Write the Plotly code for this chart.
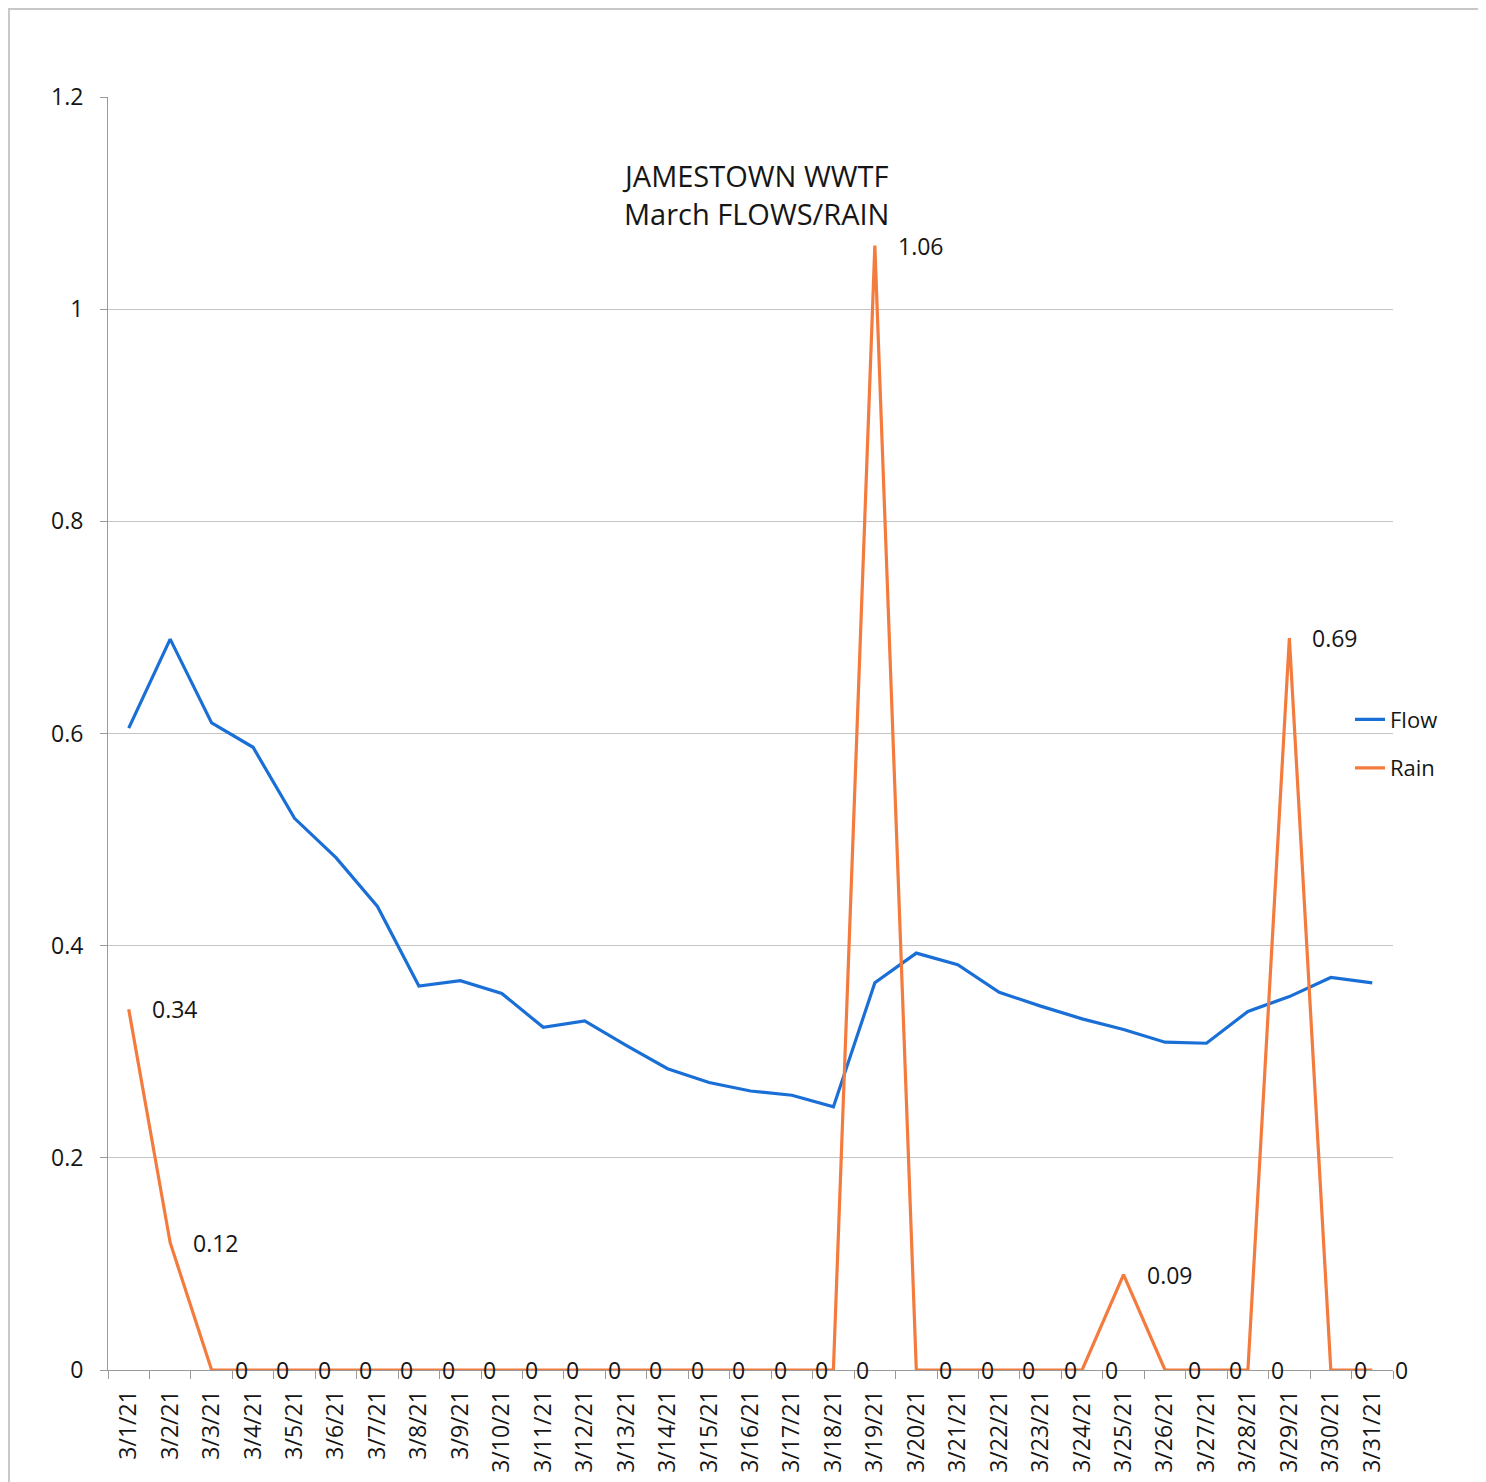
import plotly.graph_objects as go

dates = [f"3/{d}/21" for d in range(1, 32)]
flow = [0.605, 0.689, 0.610, 0.587, 0.520, 0.483, 0.437, 0.362, 0.367, 0.355,
        0.323, 0.329, 0.306, 0.284, 0.271, 0.263, 0.259, 0.248, 0.365, 0.393,
        0.382, 0.356, 0.343, 0.331, 0.321, 0.309, 0.308, 0.338, 0.352, 0.370,
        0.365]
rain = [0.34, 0.12, 0, 0, 0, 0, 0, 0, 0, 0,
        0, 0, 0, 0, 0, 0, 0, 0, 1.06, 0,
        0, 0, 0, 0, 0.09, 0, 0, 0, 0.69, 0,
        0]
y_ticks = [0, 0.2, 0.4, 0.6, 0.8, 1, 1.2]
title_lines = ["JAMESTOWN WWTF", "March FLOWS/RAIN"]

FONT = "Open Sans"
TXT = "#161616"
GRID = "#c4c4c4"
AXC = "#9a9a9a"
OFF = 8  # page body margin
W, H = 1486 - OFF, 1482 - OFF
# plot area in page pixels: x 108..1393, y 97..1370
L, T = 108 - OFF, 97 - OFF
R = W - (1393 - OFF)
B = H - (1370 - OFF)
pw, ph = W - L - R, H - T - B

def px_x(p):
    return (p - OFF - L) / pw

def px_y(p):
    return (H - B - (p - OFF)) / ph

fig = go.Figure()
fig.add_trace(go.Scatter(x=dates, y=flow, mode="lines", name="Flow",
                         line=dict(color="#1a6fd6", width=3.2), legendgroup="a"))
fig.add_trace(go.Scatter(x=dates, y=rain, mode="lines", name="Rain",
                         line=dict(color="#f47b3e", width=3.2), legendgroup="b"))

annotations = []
for d, v in zip(dates, rain):
    annotations.append(dict(x=d, y=v, xref="x", yref="y", text=f"{v:g}",
                            showarrow=False, xanchor="left", yanchor="middle",
                            xshift=21, font=dict(family=FONT, size=23, color=TXT)))
annotations.append(dict(x=px_x(755), y=px_y(194), xref="paper", yref="paper",
                        text="<br>".join(title_lines), showarrow=False,
                        xanchor="center", yanchor="middle", align="center",
                        font=dict(family=FONT, size=29, color=TXT)))

fig.update_layout(
    width=W, height=H,
    margin=dict(l=L, r=R, t=T, b=B, autoexpand=False),
    paper_bgcolor="white", plot_bgcolor="white",
    font=dict(family=FONT, size=22, color=TXT),
    showlegend=True,
    legend=dict(x=px_x(1350), y=px_y(744), xanchor="left", yanchor="middle",
                font=dict(family=FONT, size=22, color=TXT),
                tracegroupgap=17, bgcolor="rgba(0,0,0,0)"),
    annotations=annotations,
    shapes=[dict(type="rect", xref="paper", yref="paper",
                 x0=px_x(OFF + 1), x1=px_x(1482), y0=px_y(1500), y1=px_y(OFF + 1),
                 line=dict(color="#c8c8c8", width=2), layer="below")],
)
fig.update_xaxes(type="category", range=[-0.5, len(dates) - 0.5],
                 tickangle=-90, tickson="boundaries", automargin=False,
                 ticks="outside", ticklen=8, tickcolor=AXC,
                 showline=True, linecolor=AXC, linewidth=1,
                 showgrid=False, tickfont=dict(family=FONT, size=23, color=TXT),
                 ticklabelstandoff=10)
fig.update_yaxes(range=[0, 1.2], tickvals=y_ticks, ticktext=[f"{t:g}" for t in y_ticks],
                 automargin=False,
                 ticks="outside", ticklen=7, tickcolor=AXC,
                 showline=True, linecolor=AXC, linewidth=1,
                 showgrid=True, gridcolor=GRID, gridwidth=1, zeroline=False,
                 tickfont=dict(family=FONT, size=23, color=TXT),
                 ticklabelstandoff=12)

fig.write_html("out.html")
